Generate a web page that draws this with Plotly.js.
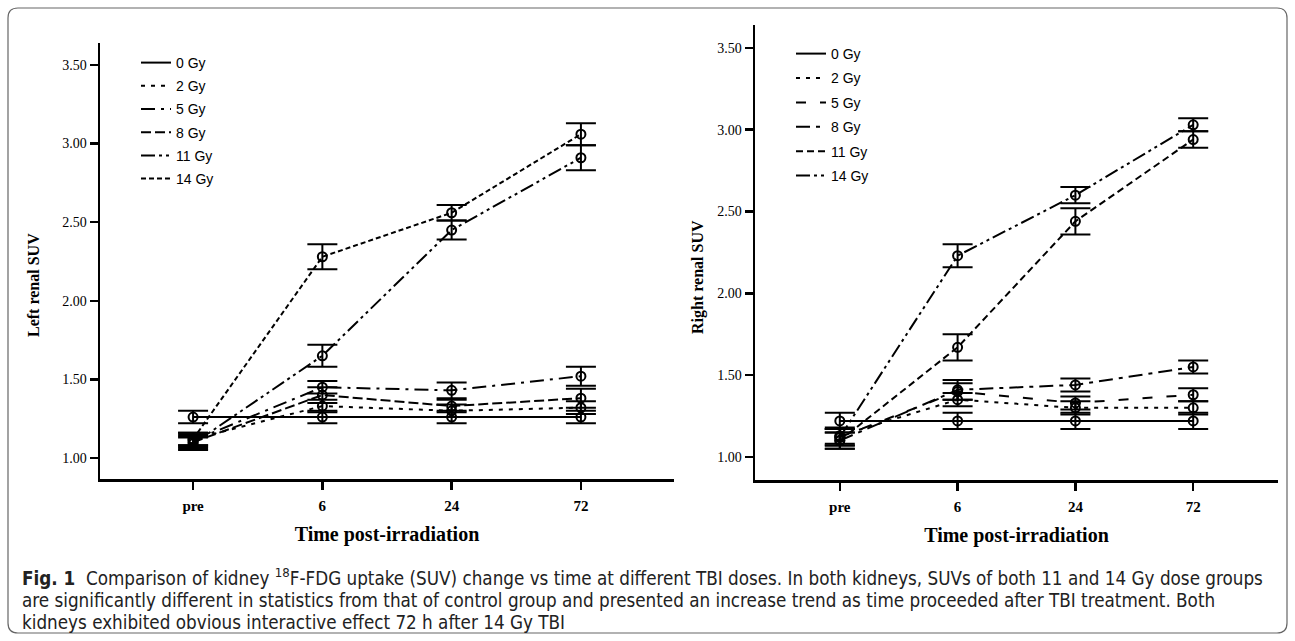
<!DOCTYPE html>
<html>
<head>
<meta charset="utf-8">
<script src="https://cdn.plot.ly/plotly-3.0.1.min.js"></script>
<style>html,body{margin:0;padding:0;background:#fff;}#chart{width:1295px;height:641px;}</style>
</head>
<body>
<div id="chart"></div>
<script>
// ---------- data ----------
const timeCats = ['pre', '6', '24', '72'];
const doseNames = ['0 Gy', '2 Gy', '5 Gy', '8 Gy', '11 Gy', '14 Gy'];
const yTickVals = [1.0, 1.5, 2.0, 2.5, 3.0, 3.5];
const yTickText = ['1.00', '1.50', '2.00', '2.50', '3.00', '3.50'];

// Left kidney SUV (mean) and error
const left0Gy  = [1.26, 1.26, 1.26, 1.26];
const left2Gy  = [1.12, 1.33, 1.30, 1.32];
const left5Gy  = [1.11, 1.45, 1.43, 1.52];
const left8Gy  = [1.10, 1.40, 1.33, 1.38];
const left11Gy = [1.09, 1.65, 2.45, 2.91];
const left14Gy = [1.12, 2.28, 2.56, 3.06];
const leftErr0Gy  = [0.04, 0.04, 0.04, 0.04];
const leftErr2Gy  = [0.04, 0.04, 0.04, 0.04];
const leftErr5Gy  = [0.04, 0.04, 0.05, 0.06];
const leftErr8Gy  = [0.04, 0.05, 0.04, 0.06];
const leftErr11Gy = [0.04, 0.07, 0.06, 0.08];
const leftErr14Gy = [0.04, 0.08, 0.05, 0.07];

// Right kidney SUV (mean) and error
const right0Gy  = [1.22, 1.22, 1.22, 1.22];
const right2Gy  = [1.13, 1.35, 1.30, 1.30];
const right5Gy  = [1.12, 1.40, 1.33, 1.38];
const right8Gy  = [1.10, 1.41, 1.44, 1.55];
const right11Gy = [1.10, 1.67, 2.44, 2.94];
const right14Gy = [1.12, 2.23, 2.60, 3.03];
const rightErr0Gy  = [0.05, 0.05, 0.05, 0.05];
const rightErr2Gy  = [0.05, 0.04, 0.04, 0.04];
const rightErr5Gy  = [0.05, 0.05, 0.04, 0.04];
const rightErr8Gy  = [0.05, 0.06, 0.04, 0.04];
const rightErr11Gy = [0.05, 0.08, 0.08, 0.05];
const rightErr14Gy = [0.05, 0.07, 0.05, 0.04];

const leftMeans = [left0Gy, left2Gy, left5Gy, left8Gy, left11Gy, left14Gy];
const leftErrs = [leftErr0Gy, leftErr2Gy, leftErr5Gy, leftErr8Gy, leftErr11Gy, leftErr14Gy];
const rightMeans = [right0Gy, right2Gy, right5Gy, right8Gy, right11Gy, right14Gy];
const rightErrs = [rightErr0Gy, rightErr2Gy, rightErr5Gy, rightErr8Gy, rightErr11Gy, rightErr14Gy];

// ---------- styles ----------
const leftDash = ['solid', '4px,6px', '14px,6px,3px,6px', '10px,4px', '14px,4px,3px,4px,3px,4px', '5px,3px'];
const rightDash = ['solid', '4px,6px', '10px,14px', '14px,6px,4px,6px', '7px,4px', '14px,4px,3px,4px,3px,4px'];

const W = 1295, H = 641;
const px = v => v / W;
const py = v => 1 - v / H;

const serif = 'Liberation Serif, Times New Roman, serif';
const sans = 'Liberation Sans, Arial, sans-serif';

const traces = [];
function addSeries(means, errs, dashes, xa, ya, legendId) {
  means.forEach((m, i) => {
    traces.push({
      type: 'scatter', mode: 'lines', x: timeCats, y: m,
      xaxis: xa, yaxis: ya, name: doseNames[i],
      legend: legendId, legendgroup: legendId + i,
      line: {color: '#000', width: 2, dash: dashes[i]},
      hoverinfo: 'skip'
    });
    traces.push({
      type: 'scatter', mode: 'markers', x: timeCats, y: m,
      xaxis: xa, yaxis: ya, name: doseNames[i], showlegend: false,
      legend: legendId, legendgroup: legendId + i,
      marker: {symbol: 'circle-open', size: 9, color: '#000', line: {width: 2, color: '#000'}},
      error_y: {type: 'data', array: errs[i], visible: true, color: '#000', thickness: 2, width: 15},
      hoverinfo: 'skip'
    });
  });
}
addSeries(leftMeans, leftErrs, leftDash, 'x', 'y', 'legend');
addSeries(rightMeans, rightErrs, rightDash, 'x2', 'y2', 'legend2');

function xAxis(domain, anchor) {
  return {
    domain: domain, anchor: anchor, type: 'category', categoryarray: timeCats,
    range: [-0.72, 3.72], showline: true, linewidth: 2.5, linecolor: '#000',
    ticks: 'outside', ticklen: 8, tickwidth: 2.5, tickcolor: '#000',
    ticklabelstandoff: 3,
    showgrid: false, zeroline: false,
    tickfont: {family: serif, size: 15, color: '#000', weight: 'bold'},
    title: {text: 'Time post-irradiation', font: {family: serif, size: 20, color: '#000', weight: 'bold'}, standoff: 15}
  };
}
function yAxis(domain, anchor, range) {
  return {
    domain: domain, anchor: anchor, range: range,
    tickvals: yTickVals, ticktext: yTickText,
    showline: true, linewidth: 2.5, linecolor: '#000',
    ticks: 'outside', ticklen: 8, tickwidth: 2.5, tickcolor: '#000',
    showgrid: false, zeroline: false,
    tickfont: {family: serif, size: 14, color: '#000'}
  };
}

// rounded frame
function roundRect(x0, y0, x1, y1, r) {
  const rx = r / W, ry = r / H;
  const X0 = px(x0), X1 = px(x1), Y0 = py(y0), Y1 = py(y1);
  return `M ${X0 + rx} ${Y0} L ${X1 - rx} ${Y0} Q ${X1} ${Y0} ${X1} ${Y0 - ry} L ${X1} ${Y1 + ry} Q ${X1} ${Y1} ${X1 - rx} ${Y1} L ${X0 + rx} ${Y1} Q ${X0} ${Y1} ${X0} ${Y1 + ry} L ${X0} ${Y0 - ry} Q ${X0} ${Y0} ${X0 + rx} ${Y0} Z`;
}

const captionFont = {family: 'DejaVu Sans Condensed, Liberation Sans Narrow, Arial Narrow, sans-serif', size: 18.7, color: '#222'};
const captionLines = [
  '<b>Fig. 1</b>  Comparison of kidney <sup>18</sup>F-FDG uptake (SUV) change vs time at different TBI doses. In both kidneys, SUVs of both 11 and 14 Gy dose groups',
  'are significantly different in statistics from that of control group and presented an increase trend as time proceeded after TBI treatment. Both',
  'kidneys exhibited obvious interactive effect 72 h after 14 Gy TBI'
];
const captionY = [577, 600, 622];

const yTitleFont = {family: serif, size: 16, color: '#000', weight: 'bold'};
const yTitles = [
  {text: 'Left renal SUV', x: 33, y: 285},
  {text: 'Right renal SUV', x: 698, y: 277}
];

const legendBase = {
  bgcolor: 'rgba(0,0,0,0)', borderwidth: 0, traceorder: 'grouped', tracegroupgap: 2,
  font: {family: sans, size: 14, color: '#000'}, xanchor: 'left', yanchor: 'top', itemclick: false
};

const annotations = captionLines.map((t, i) => ({
  xref: 'paper', yref: 'paper', x: px(20), y: py(captionY[i]), xanchor: 'left', yanchor: 'middle',
  text: t, showarrow: false, align: 'left', font: captionFont
})).concat(yTitles.map(t => ({
  xref: 'paper', yref: 'paper', x: px(t.x), y: py(t.y), xanchor: 'center', yanchor: 'middle',
  text: t.text, textangle: -90, showarrow: false, font: yTitleFont
})));

const layout = {
  width: W, height: H,
  margin: {l: 0, r: 0, t: 0, b: 0, autoexpand: false},
  paper_bgcolor: '#fff', plot_bgcolor: 'rgba(0,0,0,0)',
  showlegend: true,
  xaxis: xAxis([px(100), px(674)], 'y'),
  yaxis: yAxis([py(479), py(43)], 'x', [0.866, 3.64]),
  xaxis2: xAxis([px(755), px(1278)], 'y2'),
  yaxis2: yAxis([py(480), py(25)], 'x2', [0.859, 3.64]),
  legend: Object.assign({}, legendBase, {x: px(136), y: py(47)}),
  legend2: Object.assign({}, legendBase, {x: px(791), y: py(38), tracegroupgap: 3.2}),
  shapes: [{type: 'path', xref: 'paper', yref: 'paper', path: roundRect(8, 8, 1287, 633, 10),
            line: {color: '#666', width: 1.2}, fillcolor: 'rgba(0,0,0,0)', layer: 'below'}],
  annotations: annotations
};

Plotly.newPlot('chart', traces, layout, {displayModeBar: false, staticPlot: true});
</script>
</body>
</html>
